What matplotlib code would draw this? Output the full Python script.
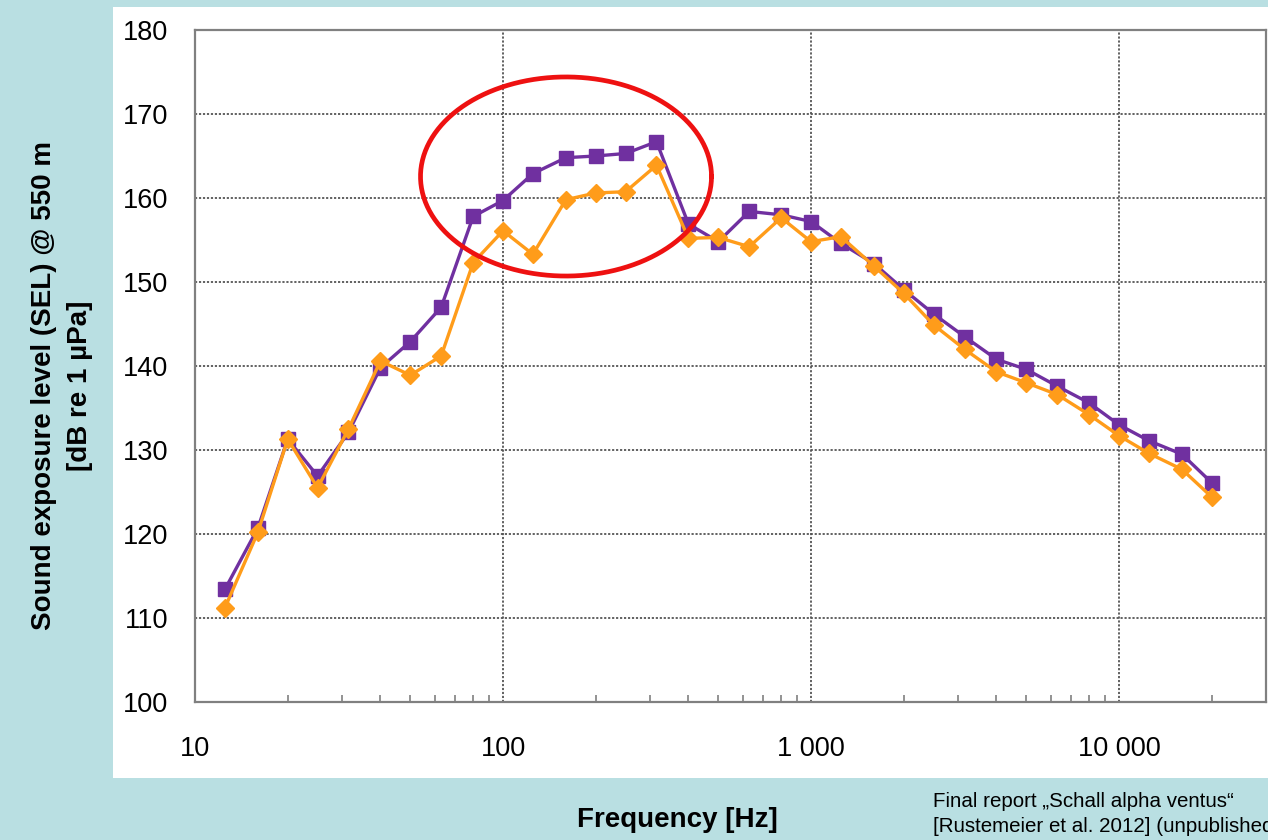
import numpy as np
import matplotlib
matplotlib.use("Agg")
import matplotlib.pyplot as plt
from matplotlib.patches import Rectangle
from matplotlib.ticker import FixedLocator, FixedFormatter, NullFormatter

plt.rcParams['font.family'] = ['Liberation Sans', 'DejaVu Sans']

# ---- data ----
freqs = [12.5, 16, 20, 25, 31.5, 40, 50, 63, 80, 100, 125, 160, 200, 250, 315,
         400, 500, 630, 800, 1000, 1250, 1600, 2000, 2500, 3150, 4000, 5000,
         6300, 8000, 10000, 12500, 16000, 20000]
sel_purple = [113.4, 120.7, 131.3, 126.9, 132.1, 139.8, 142.9, 147.0, 157.8, 159.7,
              162.9, 164.8, 165.0, 165.3, 166.7, 156.9, 154.8, 158.4, 158.0, 157.2,
              154.6, 152.2, 149.1, 146.2, 143.5, 140.8, 139.6, 137.6, 135.6, 133.0,
              131.1, 129.5, 126.1]
sel_orange = [111.2, 120.2, 131.3, 125.5, 132.5, 140.6, 138.9, 141.2, 152.3, 156.1,
              153.3, 159.8, 160.6, 160.75, 163.9, 155.2, 155.3, 154.2, 157.65, 154.8,
              155.4, 151.9, 148.65, 144.9, 142.0, 139.3, 138.0, 136.6, 134.2, 131.7,
              129.6, 127.7, 124.4]
x_major = [10, 100, 1000, 10000]
x_major_labels = ["10", "100", "1 000", "10 000"]
y_ticks = [100, 110, 120, 130, 140, 150, 160, 170, 180]

# highlight ellipse (log10 frequency centre, half-width in decades, dB centre, half-height)
ell_cx, ell_a, ell_cy, ell_b = 2.2045, 0.4724, 162.56, 11.85

W, H = 1268, 840
bg = '#b9dfe2'
fig = plt.figure(figsize=(W / 100, H / 100), dpi=100, facecolor=bg)

# white panel
fig.patches.append(Rectangle((113 / W, 1 - 778 / H), (W - 113) / W, (778 - 7) / H,
                             transform=fig.transFigure, facecolor='white',
                             edgecolor='none', zorder=-5))

ax = fig.add_axes([195 / W, 1 - 702 / H, (1266 - 195) / W, 672 / H])
ax.set_zorder(2)
ax.set_facecolor('white')
ax.set_xscale('log')
ax.set_xlim(10, 30000)
ax.set_ylim(100, 180)

ax.plot(freqs, sel_purple, color='#7030a0', lw=2.4, marker='s', ms=10.5,
        mfc='#7030a0', mec='#7030a0', zorder=3)
ax.plot(freqs, sel_orange, color='#ff9c1a', lw=2.4, marker='D', ms=9.0,
        mfc='#ff9c1a', mec='#ff9c1a', zorder=4)

# ellipse
t = np.linspace(0, 2 * np.pi, 400)
ax.plot(10 ** (ell_cx + ell_a * np.cos(t)), ell_cy + ell_b * np.sin(t),
        color='#ee1111', lw=3.4, zorder=5, clip_on=False)

# ticks
ax.xaxis.set_major_locator(FixedLocator(x_major))
ax.xaxis.set_major_formatter(FixedFormatter(x_major_labels))
minors = [m * d for d in [10, 100, 1000, 10000] for m in range(2, 10) if m * d < 30000]
ax.xaxis.set_minor_locator(FixedLocator(minors))
ax.xaxis.set_minor_formatter(NullFormatter())
ax.set_yticks(y_ticks)
ax.tick_params(axis='x', which='major', length=0, pad=24.5, labelsize=19.5)
ax.tick_params(axis='x', which='minor', direction='in', length=5, width=1.2,
               color='#808080')
ax.tick_params(axis='y', which='major', length=0, pad=19.5, labelsize=19.5)

ax.grid(True, which='major', axis='both', color='#555555', lw=1.3,
        linestyle=(0, (1.2, 1.0)))
ax.set_axisbelow(True)
for s in ax.spines.values():
    s.set_color('#808080')
    s.set_linewidth(1.6)

# labels
fig.text(44 / W, 1 - 386 / H, "Sound exposure level (SEL) @ 550 m", rotation=90,
         ha='center', va='center', fontsize=20, fontweight='bold')
fig.text(80 / W, 1 - 386 / H, "[dB re 1 µPa]", rotation=90,
         ha='center', va='center', fontsize=20, fontweight='bold')
fig.text(677 / W, 1 - 820 / H, "Frequency [Hz]", ha='center', va='center',
         fontsize=20, fontweight='bold')
fig.text(933 / W, 1 - 806.7 / H, "Final report \u201eSchall alpha ventus\u201c",
         ha='left', va='baseline', fontsize=14.8)
fig.text(933 / W, 1 - 831.7 / H, "[Rustemeier et al. 2012] (unpublished)",
         ha='left', va='baseline', fontsize=14.8)

fig.savefig('out.png', dpi=100, facecolor=bg)
